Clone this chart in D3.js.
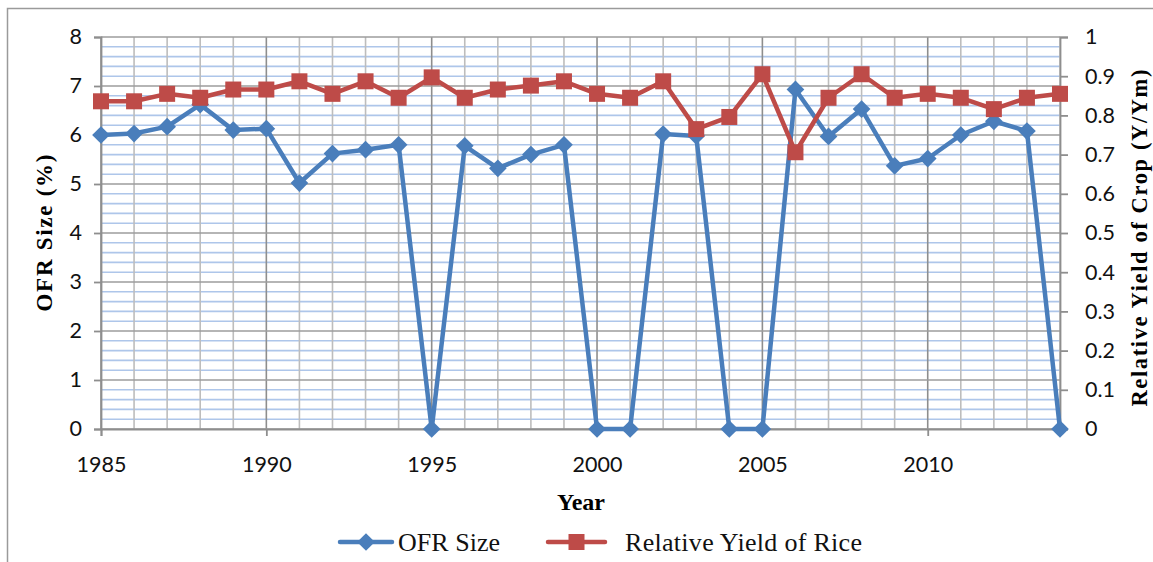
<!DOCTYPE html>
<html>
<head>
<meta charset="utf-8">
<script src="https://cdn.jsdelivr.net/npm/d3@7"></script>
<style>
  body { margin: 0; background: #fff; }
  svg { display: block; }
</style>
</head>
<body>
<svg id="chart"></svg>
<script>
// data
const years = [1985, 1986, 1987, 1988, 1989, 1990, 1991, 1992, 1993, 1994,
               1995, 1996, 1997, 1998, 1999, 2000, 2001, 2002, 2003, 2004,
               2005, 2006, 2007, 2008, 2009, 2010, 2011, 2012, 2013, 2014];
const ofrSize = [6.0, 6.03, 6.17, 6.62, 6.1, 6.13, 5.02, 5.62, 5.7, 5.8,
                 0, 5.78, 5.32, 5.6, 5.8, 0, 0, 6.02, 5.98, 0,
                 0, 6.93, 5.97, 6.53, 5.37, 5.52, 6.0, 6.28, 6.08, 0];
const relYield = [0.836, 0.836, 0.855, 0.845, 0.866, 0.866, 0.887, 0.855, 0.887, 0.845,
                  0.897, 0.845, 0.866, 0.876, 0.887, 0.855, 0.845, 0.887, 0.765, 0.796,
                  0.905, 0.706, 0.845, 0.905, 0.845, 0.855, 0.845, 0.816, 0.845, 0.855];
const leftTicks = [0, 1, 2, 3, 4, 5, 6, 7, 8];
const rightTicks = [0, 0.1, 0.2, 0.3, 0.4, 0.5, 0.6, 0.7, 0.8, 0.9, 1];
const xTickYears = [1985, 1990, 1995, 2000, 2005, 2010];

const width = 1153;
const height = 562;
const plot = { left: 101, right: 1060, top: 37, bottom: 429 };

const blue = "#4a7ebb";
const red = "#be4b48";
const tickFont = "Lato, 'Open Sans', sans-serif";
const serif = "'Liberation Serif', 'DejaVu Serif', serif";

const svg = d3.select("#chart").attr("width", width).attr("height", height);

const x = d3.scaleLinear().domain([1985, 2014]).range([plot.left, plot.right]);
const yLeft = d3.scaleLinear().domain([0, 8]).range([plot.bottom, plot.top]);
const yRight = d3.scaleLinear().domain([0, 1]).range([plot.bottom, plot.top]);

// outer chart border (right / bottom fall outside the picture)
svg.append("rect")
  .attr("x", 7.5).attr("y", 8.5)
  .attr("width", 1170).attr("height", 600)
  .attr("fill", "none").attr("stroke", "#9a9a9a").attr("stroke-width", 1.5);

// minor horizontal grid (every 0.2 on left axis)
const minor = d3.range(0, 8.001, 0.2).filter(v => Math.abs(v - Math.round(v)) > 0.01);
svg.append("g").selectAll("line")
  .data(minor)
  .join("line")
  .attr("x1", plot.left).attr("x2", plot.right)
  .attr("y1", d => yLeft(d)).attr("y2", d => yLeft(d))
  .attr("stroke", "#aec6ea").attr("stroke-width", 1.6);

// vertical grid at each year
svg.append("g").selectAll("line")
  .data(years)
  .join("line")
  .attr("x1", d => x(d)).attr("x2", d => x(d))
  .attr("y1", plot.top).attr("y2", plot.bottom)
  .attr("stroke", d => xTickYears.includes(d) ? "#8e8e8e" : "#bdbdbd")
  .attr("stroke-width", 1.6);

// major horizontal grid
svg.append("g").selectAll("line")
  .data(leftTicks)
  .join("line")
  .attr("x1", plot.left).attr("x2", plot.right)
  .attr("y1", d => yLeft(d)).attr("y2", d => yLeft(d))
  .attr("stroke", "#9c9c9c").attr("stroke-width", 1.6);

// axes
const axisColor = "#8e8e8e";
const gLeft = svg.append("g")
  .attr("transform", `translate(${plot.left},0)`)
  .call(d3.axisLeft(yLeft).tickValues(leftTicks).tickSize(7).tickPadding(12).tickFormat(d3.format("d")));
const gRight = svg.append("g")
  .attr("transform", `translate(${plot.right},0)`)
  .call(d3.axisRight(yRight).tickValues(rightTicks).tickSize(8).tickPadding(17).tickFormat(d => d === 0 || d === 1 ? String(d) : d3.format(".1f")(d)));
const gBottom = svg.append("g")
  .attr("transform", `translate(0,${plot.bottom})`)
  .call(d3.axisBottom(x).tickValues(xTickYears).tickSize(7).tickPadding(21).tickFormat(d3.format("d")));

[gLeft, gRight, gBottom].forEach(g => {
  g.select(".domain").attr("stroke", axisColor).attr("stroke-width", 1.8);
  g.selectAll(".tick line").attr("stroke", axisColor).attr("stroke-width", 1.8);
  g.selectAll(".tick text")
    .attr("font-family", tickFont).attr("font-size", 21.5).attr("fill", "#111");
});

// series
const ofrLine = d3.line().x((d, i) => x(years[i])).y(d => yLeft(d));
const yieldLine = d3.line().x((d, i) => x(years[i])).y(d => yRight(d));

svg.append("path")
  .datum(ofrSize)
  .attr("d", ofrLine)
  .attr("fill", "none").attr("stroke", blue)
  .attr("stroke-width", 4.5).attr("stroke-linejoin", "round");

// diamond marker about 20px across
const diamond = d3.symbol().type(d3.symbolDiamond2).size(200);
svg.append("g").selectAll("path")
  .data(ofrSize)
  .join("path")
  .attr("d", diamond)
  .attr("transform", (d, i) => `translate(${x(years[i])},${yLeft(d)})`)
  .attr("fill", blue);

svg.append("path")
  .datum(relYield)
  .attr("d", yieldLine)
  .attr("fill", "none").attr("stroke", red)
  .attr("stroke-width", 4.5).attr("stroke-linejoin", "round");

svg.append("g").selectAll("rect")
  .data(relYield)
  .join("rect")
  .attr("x", (d, i) => x(years[i]) - 8)
  .attr("y", d => yRight(d) - 8)
  .attr("width", 16).attr("height", 16)
  .attr("fill", red);

// axis titles
svg.append("text")
  .attr("transform", "translate(52,233) rotate(-90)")
  .attr("text-anchor", "middle")
  .attr("font-family", serif).attr("font-weight", "bold").attr("font-size", 23)
  .attr("textLength", 157).attr("lengthAdjust", "spacing")
  .text("OFR Size (%)");

svg.append("text")
  .attr("transform", "translate(1147,238) rotate(-90)")
  .attr("text-anchor", "middle")
  .attr("font-family", serif).attr("font-weight", "bold").attr("font-size", 22.5)
  .attr("textLength", 337).attr("lengthAdjust", "spacing")
  .text("Relative Yield of Crop (Y/Ym)");

svg.append("text")
  .attr("x", 581).attr("y", 510)
  .attr("text-anchor", "middle")
  .attr("font-family", serif).attr("font-weight", "bold").attr("font-size", 24)
  .text("Year");

// legend
const legend = [
  { name: "OFR Size", color: blue, shape: "diamond", x: 340, textX: 398, len: 102 },
  { name: "Relative Yield of Rice", color: red, shape: "square", x: 548, textX: 625, len: 237 }
];
const ly = 542;
const lg = svg.append("g");
legend.forEach(item => {
  const w = item.shape === "diamond" ? 52 : 57;
  lg.append("line")
    .attr("x1", item.x).attr("x2", item.x + w)
    .attr("y1", ly).attr("y2", ly)
    .attr("stroke", item.color).attr("stroke-width", 4.5).attr("stroke-linecap", "round");
  const cx = item.x + w / 2;
  if (item.shape === "diamond") {
    lg.append("path")
      .attr("d", diamond)
      .attr("transform", `translate(${cx},${ly})`)
      .attr("fill", item.color);
  } else {
    lg.append("rect")
      .attr("x", cx - 8).attr("y", ly - 8)
      .attr("width", 16).attr("height", 16)
      .attr("fill", item.color);
  }
  lg.append("text")
    .attr("x", item.textX).attr("y", ly + 9)
    .attr("font-family", serif).attr("font-size", 26)
    .attr("textLength", item.len).attr("lengthAdjust", "spacing")
    .attr("fill", "#111")
    .text(item.name);
});
</script>
</body>
</html>
